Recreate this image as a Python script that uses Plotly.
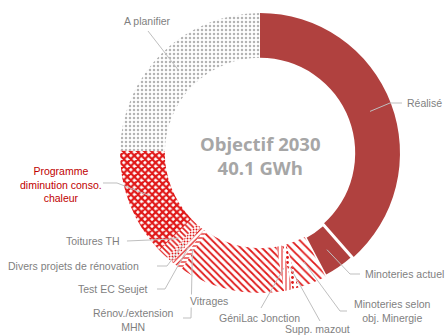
import math
import plotly.graph_objects as go

W, H = 445, 336

labels = ["Réalisé", "Minoteries actuel", "Minoteries selon obj. Minergie", "Supp. mazout",
          "GéniLac Jonction", "Vitrages", "Rénov./extension MHN", "Test EC Seujet",
          "Divers projets de rénovation", "Toitures TH", "Programme diminution conso. chaleur",
          "A planifier"]
values = [15.43, 1.50, 1.34, 0.28, 0.39, 4.90, 0.22, 0.28, 0.33, 0.50, 5.01, 9.91]
label_text = ["Réalisé", "Minoteries actuel", "Minoteries selon<br>obj. Minergie", "Supp. mazout",
              "GéniLac Jonction", "Vitrages", "Rénov./extension<br>MHN", "Test EC Seujet",
              "Divers projets de rénovation", "Toitures TH",
              "Programme<br>diminution conso.<br>chaleur", "A planifier"]
center_title = "Objectif 2030<br>40.1 GWh"

SOLID = "#B0413F"
RED = "#E01818"
GREY = "#B4B4B4"

shapes_ = ["", "", "\\", ".", "|", "\\", "-", "/", ".", "\\", "x", "."]
fg = [SOLID, SOLID, RED, RED, RED, RED, RED, RED, RED, RED, RED, GREY]
sizes = [8, 8, 6, 5, 4, 5, 4, 4, 3, 4, 5, 4]
solid = [1, 1, 0.3, 0.25, 0.25, 0.35, 0.3, 0.3, 0.35, 0.4, 0.7, 0.3]
colors = [SOLID, SOLID, "white", "white", "white", "white", "white", "white", "white",
          "white", "white", "white"]
line_w = [0, 3, 0, 0, 0, 0, 0, 0, 0, 0, 0, 0]

cx, cy, R = 260, 153, 140
hole = 0.68

fig = go.Figure(go.Pie(
    labels=labels, values=values, sort=False, direction="clockwise", rotation=0,
    hole=hole, textinfo="none", hoverinfo="label+value",
    marker=dict(colors=colors, line=dict(color="white", width=line_w),
                pattern=dict(shape=shapes_, fgcolor=fg, bgcolor="white",
                             size=sizes, solidity=solid, fillmode="replace")),
    domain=dict(x=[(cx - R) / W, (cx + R) / W], y=[1 - (cy + R) / H, 1 - (cy - R) / H]),
    showlegend=False,
))

def px(x):
    return x / W

def py(y):
    return 1 - y / H

# anchor points at mid-angle of each slice
total = sum(values)
anchors = []
cum = 0
ra = (R + R * hole) / 2
for v in values:
    mid = (cum + v / 2) / total * 360
    a = math.radians(mid)
    anchors.append((cx + ra * math.sin(a), cy - ra * math.cos(a)))
    cum += v

# label layout: (text x, text y, xanchor, leader path start points)
lay = {
    0: (406, 103, "left", [(402, 103), (390, 103)]),
    1: (364, 274, "left", [(360, 274), (350, 274)]),
    2: (392, 311, "center", [(347, 311), (340, 311)]),
    3: (317, 329, "center", [(320, 321)]),
    4: (259, 318, "center", [(261, 308)]),
    5: (209, 301, "center", None),
    6: (133, 320, "center", [(183, 318), (191, 318)]),
    7: (113, 289, "center", [(157, 289), (165, 289)]),
    8: (73, 266, "center", [(157, 266), (167, 266)]),
    9: (93, 241, "center", [(127, 241), (173, 239)]),
    10: (61, 184, "center", [(103, 183), (117, 183)]),
    11: (147, 21, "center", [(148, 31)]),
}

shapes = []
annotations = []
for i, (tx, ty, xa, pts) in lay.items():
    color = "#C00000" if i == 10 else "#7F7F7F"
    if pts:
        path_pts = pts + [anchors[i]]
        d = "M " + " L ".join(f"{px(x):.5f},{py(y):.5f}" for x, y in path_pts)
        shapes.append(dict(type="path", xref="paper", yref="paper", path=d,
                           line=dict(color="#BFBFBF", width=1)))
    annotations.append(dict(x=px(tx), y=py(ty), xref="paper", yref="paper", text=label_text[i],
                            showarrow=False, xanchor=xa, yanchor="middle",
                            font=dict(family="Liberation Sans, Arial", size=10.5, color=color),
                            bgcolor="white" if i == 5 else None, borderpad=0))

annotations.append(dict(x=px(cx), y=py(155), xref="paper", yref="paper", text="<b>" + center_title + "</b>",
                        showarrow=False, xanchor="center", yanchor="middle",
                        font=dict(family="Open Sans, Lato, sans-serif", size=18.5, color="#A6A6A6")))

fig.update_layout(width=W, height=H, margin=dict(l=0, r=0, t=0, b=0),
                  paper_bgcolor="white", plot_bgcolor="white",
                  shapes=shapes, annotations=annotations)

fig.write_html("out.html")
